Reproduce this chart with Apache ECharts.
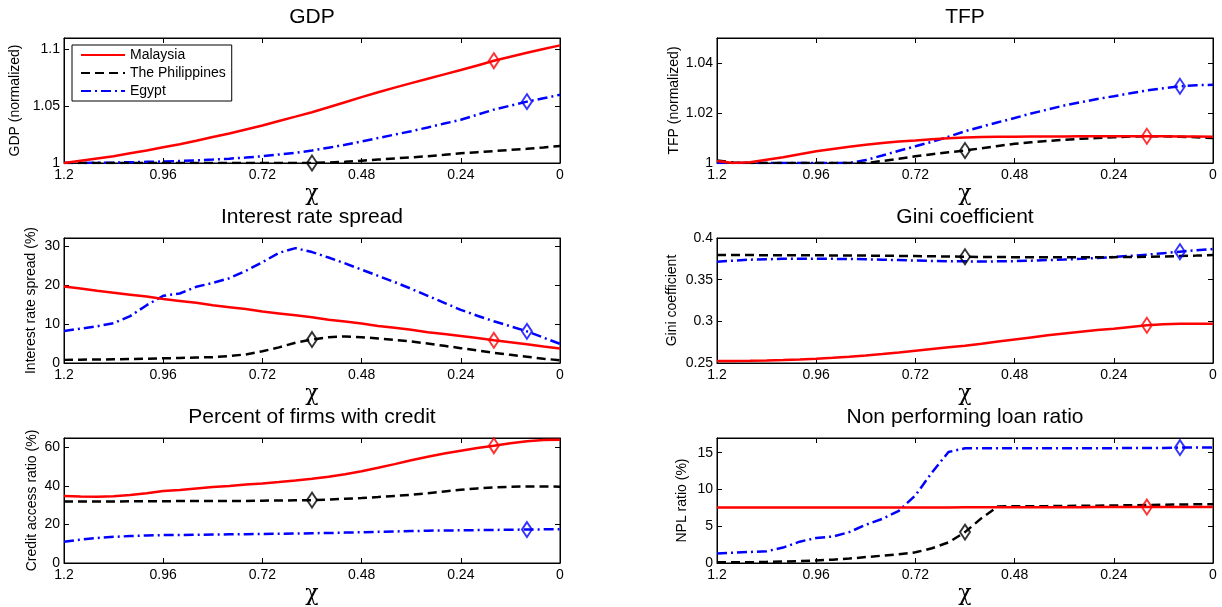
<!DOCTYPE html>
<html><head><meta charset="utf-8">
<script src="https://cdn.jsdelivr.net/npm/echarts@6/dist/echarts.min.js"></script>
<style>html,body{margin:0;padding:0;background:#fff}#c{width:1222px;height:607px}</style>
</head><body><div id="c"></div>
<script>
// ---------- data ----------
const chi = [1.2,1.16,1.12,1.08,1.04,1.0,0.96,0.92,0.88,0.84,0.8,0.76,0.72,0.68,0.64,0.6,0.56,0.52,0.48,0.44,0.4,0.36,0.32,0.28,0.24,0.2,0.16,0.12,0.08,0.04,0];
const countries = ['Malaysia','The Philippines','Egypt'];
const markerChi = [0.16, 0.6, 0.08];
const chiTicks = [1.2,0.96,0.72,0.48,0.24,0];

const gdpMalaysia = [1.000,1.002,1.004,1.006,1.0085,1.011,1.0138,1.0165,1.0195,1.0228,1.026,1.0295,1.033,1.037,1.0408,1.0447,1.049,1.0535,1.058,1.0622,1.0663,1.0703,1.0742,1.078,1.0818,1.0858,1.09,1.0935,1.097,1.1003,1.1035];
const gdpPhilippines = [1.0,1.0,1.0,1.0,1.0,1.0,1.0,1.0,1.0,1.0,1.0,1.0,1.0,1.0,1.0,1.0,1.0005,1.001,1.002,1.003,1.004,1.005,1.006,1.0072,1.0085,1.0095,1.0105,1.0115,1.0125,1.0137,1.015];
const gdpEgypt = [1.0,1.0,1.0002,1.0004,1.0007,1.001,1.0013,1.0018,1.0023,1.003,1.0038,1.0048,1.006,1.0075,1.009,1.011,1.0135,1.016,1.019,1.022,1.025,1.028,1.0313,1.0347,1.038,1.0425,1.047,1.0505,1.054,1.057,1.06];
const gdpTicks = [1,1.05,1.1];

const tfpMalaysia = [1.0008,1.0,1.0003,1.0013,1.0023,1.0035,1.0047,1.0056,1.0065,1.0073,1.008,1.0086,1.009,1.0095,1.0099,1.0102,1.0104,1.0105,1.0105,1.0106,1.0106,1.0106,1.0107,1.0107,1.0107,1.0107,1.0107,1.0107,1.0106,1.0106,1.0105];
const tfpPhilippines = [1.001,1.0002,1.0,1.0,1.0,1.0,1.0,1.0,1.0,1.0,1.0008,1.0017,1.0027,1.0035,1.0043,1.005,1.0059,1.0068,1.0077,1.0083,1.0088,1.0093,1.0097,1.01,1.0103,1.0106,1.0107,1.0107,1.0105,1.0103,1.01];
const tfpEgypt = [1.0,1.0,1.0,1.0,1.0,1.0,1.0,1.0,1.0,1.0012,1.003,1.0049,1.0067,1.0085,1.0105,1.0127,1.0145,1.0163,1.018,1.0198,1.0214,1.023,1.0243,1.0256,1.0267,1.0279,1.029,1.0299,1.0307,1.0311,1.0313];
const tfpTicks = [1,1.02,1.04];

const spreadMalaysia = [19.6,19.1,18.5,18.0,17.5,17.0,16.4,15.9,15.4,14.8,14.3,13.8,13.2,12.7,12.2,11.7,11.1,10.6,10.1,9.5,9.0,8.5,7.9,7.4,6.9,6.4,5.8,5.3,4.8,4.2,3.7];
const spreadPhilippines = [0.8,0.85,0.9,0.95,1.0,1.1,1.2,1.3,1.4,1.5,1.8,2.2,3.0,4.0,5.2,6.0,6.6,6.8,6.6,6.3,5.9,5.5,5.0,4.4,3.8,3.2,2.6,2.1,1.6,1.1,0.7];
const spreadEgypt = [8.2,8.8,9.4,10.2,12.0,14.8,17.2,17.8,19.5,20.5,21.7,23.6,25.8,28.2,29.4,28.4,27.0,25.5,23.9,22.3,20.7,19.0,17.2,15.4,13.6,12.1,10.7,9.4,8.1,6.5,4.9];
const spreadTicks = [0,10,20,30];

const giniMalaysia = [0.2524,0.2524,0.2526,0.253,0.2536,0.2543,0.2552,0.2562,0.2575,0.259,0.2607,0.2627,0.2648,0.2668,0.2688,0.2708,0.2732,0.2757,0.2782,0.2807,0.2832,0.2855,0.2876,0.2895,0.2912,0.2933,0.2953,0.2965,0.297,0.2972,0.2972];
const giniPhilippines = [0.3795,0.3795,0.3795,0.3794,0.3794,0.3793,0.3792,0.3791,0.379,0.3789,0.3787,0.3785,0.3783,0.378,0.3778,0.3775,0.3773,0.3771,0.377,0.3769,0.3768,0.3768,0.3768,0.3769,0.377,0.3772,0.3775,0.3779,0.3784,0.3789,0.3795];
const giniEgypt = [0.3715,0.3728,0.374,0.3745,0.375,0.3752,0.3752,0.375,0.3748,0.3745,0.374,0.3735,0.373,0.3725,0.372,0.372,0.3718,0.372,0.3722,0.3728,0.3735,0.3742,0.375,0.376,0.3772,0.3786,0.38,0.3818,0.3836,0.3853,0.3868];
const giniTicks = [0.25,0.3,0.35,0.4];

const creditMalaysia = [34.8,34.6,34.5,34.7,35.3,36.3,37.4,38.0,38.8,39.5,40.1,40.8,41.4,42.1,42.9,43.8,44.9,46.2,47.7,49.5,51.4,53.4,55.2,56.9,58.4,59.8,61.0,62.3,63.3,63.9,64.1];
const creditPhilippines = [32.0,32.0,32.0,32.0,32.1,32.1,32.1,32.2,32.2,32.2,32.3,32.3,32.4,32.5,32.6,32.7,33.0,33.4,33.8,34.3,34.9,35.5,36.3,37.2,38.1,38.8,39.3,39.6,39.8,39.8,39.7];
const creditEgypt = [11.0,12.2,13.0,13.6,14.0,14.3,14.5,14.6,14.7,14.8,14.9,15.0,15.1,15.2,15.3,15.5,15.6,15.8,16.0,16.2,16.4,16.6,16.8,16.9,17.0,17.1,17.2,17.3,17.4,17.5,17.6];
const creditTicks = [0,20,40,60];

const nplMalaysia = [7.55,7.55,7.55,7.55,7.55,7.55,7.55,7.55,7.55,7.55,7.55,7.55,7.56,7.56,7.56,7.57,7.57,7.57,7.58,7.58,7.58,7.59,7.59,7.6,7.6,7.61,7.61,7.62,7.62,7.63,7.63];
const nplPhilippines = [0.1,0.1,0.1,0.15,0.2,0.25,0.35,0.45,0.6,0.8,1.0,1.2,1.45,2.0,2.8,4.2,6.1,7.7,7.72,7.73,7.74,7.76,7.78,7.8,7.82,7.85,7.88,7.92,7.95,7.98,8.0];
const nplEgypt = [1.3,1.4,1.5,1.6,2.1,2.9,3.4,3.6,4.2,5.2,6.0,7.1,9.2,12.3,15.1,15.6,15.6,15.6,15.6,15.6,15.6,15.6,15.6,15.6,15.6,15.65,15.65,15.65,15.7,15.7,15.7];
const nplTicks = [0,5,10,15];

// ---------- panels ----------
const panels = [
  {title:'GDP', yName:'GDP (normalized)', yMin:1, yMax:1.11, yTicks:gdpTicks, data:[gdpMalaysia,gdpPhilippines,gdpEgypt]},
  {title:'TFP', yName:'TFP (normalized)', yMin:1, yMax:1.05, yTicks:tfpTicks, data:[tfpMalaysia,tfpPhilippines,tfpEgypt]},
  {title:'Interest rate spread', yName:'Interest rate spread (%)', yMin:0, yMax:32, yTicks:spreadTicks, data:[spreadMalaysia,spreadPhilippines,spreadEgypt]},
  {title:'Gini coefficient', yName:'Gini coefficient', yMin:0.25, yMax:0.4, yTicks:giniTicks, data:[giniMalaysia,giniPhilippines,giniEgypt]},
  {title:'Percent of firms with credit', yName:'Credit access ratio (%)', yMin:0, yMax:65, yTicks:creditTicks, data:[creditMalaysia,creditPhilippines,creditEgypt]},
  {title:'Non performing loan ratio', yName:'NPL ratio (%)', yMin:0, yMax:17, yTicks:nplTicks, data:[nplMalaysia,nplPhilippines,nplEgypt]}
];
const layout = [
  {left:64, top:38, gap:42},
  {left:717, top:38, gap:36},
  {left:64, top:238, gap:26},
  {left:717, top:238, gap:38},
  {left:64, top:438, gap:25},
  {left:717, top:438, gap:28}
];
const W = 496, H = 125;
const FONT = 'Liberation Sans, Arial, Helvetica, sans-serif';
const colors = ['#ff0000','#000000','#0000ff'];
const dashes = ['solid',[9,5],[10,4,2,4]];

const grids=[], xAxes=[], yAxes=[], series=[], titles=[];
panels.forEach((p,k)=>{
  const L = layout[k];
  grids.push({left:L.left, top:L.top, width:W, height:H, show:true, borderColor:'#000', borderWidth:1, backgroundColor:'#fff'});
  titles.push({text:p.title, left:L.left+W/2, top:L.top-31, textAlign:'center', padding:0,
    textStyle:{fontFamily:FONT, fontSize:21, fontWeight:'normal', color:'#000'}});
  const baseX = {type:'value', gridIndex:k, min:0, max:1.2, inverse:true, splitLine:{show:false},
    axisLine:{show:true, onZero:false, lineStyle:{color:'#000', width:1}}};
  xAxes.push(Object.assign({}, baseX, {position:'bottom', name:'χ', nameLocation:'middle', nameGap:18,
    nameTextStyle:{fontFamily:'DejaVu Serif, serif', fontSize:22, color:'#000'},
    axisTick:{show:true, inside:true, length:5, lineStyle:{color:'#000'}, customValues:chiTicks},
    axisLabel:{show:true, color:'#000', fontFamily:FONT, fontSize:14, margin:5, customValues:chiTicks}}));
  xAxes.push(Object.assign({}, baseX, {position:'top',
    axisTick:{show:true, inside:true, length:5, lineStyle:{color:'#000'}, customValues:chiTicks},
    axisLabel:{show:false}}));
  const baseY = {type:'value', gridIndex:k, min:p.yMin, max:p.yMax, splitLine:{show:false},
    axisLine:{show:true, onZero:false, lineStyle:{color:'#000', width:1}}};
  yAxes.push(Object.assign({}, baseY, {position:'left', name:p.yName, nameLocation:'middle', nameGap:L.gap,
    nameTextStyle:{fontFamily:FONT, fontSize:14, color:'#000'},
    axisTick:{show:true, inside:true, length:5, lineStyle:{color:'#000'}, customValues:p.yTicks},
    axisLabel:{show:true, color:'#000', fontFamily:FONT, fontSize:14, margin:4, customValues:p.yTicks}}));
  yAxes.push(Object.assign({}, baseY, {position:'right',
    axisTick:{show:true, inside:true, length:5, lineStyle:{color:'#000'}, customValues:p.yTicks},
    axisLabel:{show:false}}));
  p.data.forEach((arr,c)=>{
    series.push({type:'line', name:countries[c], xAxisIndex:2*k, yAxisIndex:2*k,
      data:chi.map((x,i)=>[x,arr[i]]), symbol:'none', showSymbol:false, smooth:false, z:3+(2-c),
      lineStyle:{color:colors[c], width:2.5, type:dashes[c]}, itemStyle:{color:colors[c]}, animation:false});
  });
  p.data.forEach((arr,c)=>{
    const idx = chi.indexOf(markerChi[c]);
    series.push({type:'scatter', name:countries[c]+' marker', xAxisIndex:2*k, yAxisIndex:2*k,
      data:[[chi[idx], arr[idx]]], symbol:'diamond', symbolSize:[10,15], z:10,
      itemStyle:{color:'rgba(0,0,0,0)', borderColor:colors[c], borderWidth:2}, animation:false, silent:true});
  });
});

const chart = echarts.init(document.getElementById('c'), null, {renderer:'canvas'});
chart.setOption({
  backgroundColor:'#fff',
  animation:false,
  title:titles,
  grid:grids, xAxis:xAxes, yAxis:yAxes, series:series,
  legend:{data:countries, orient:'vertical', left:72, top:45, itemWidth:44, itemHeight:12, itemGap:4,
    padding:[3,6,3,8], borderColor:'#000', borderWidth:1, borderRadius:0, backgroundColor:'#fff',
    itemStyle:{color:'rgba(0,0,0,0)', borderWidth:0, opacity:0},
    textStyle:{fontFamily:FONT, fontSize:14, color:'#000'}, selectedMode:false}
});
</script>
</body></html>
